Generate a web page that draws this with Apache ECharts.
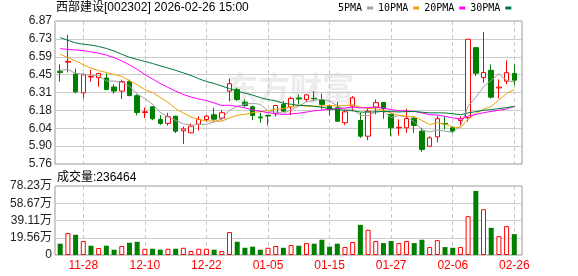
<!DOCTYPE html>
<html><head><meta charset="utf-8">
<script src="https://cdn.jsdelivr.net/npm/echarts@6/dist/echarts.min.js"></script>
<style>html,body{margin:0;padding:0;background:#fff}#c{width:578px;height:276px}</style>
</head><body><div id="c"></div>
<script>
const dates = ['11-25','11-26','11-27','11-28','12-01','12-02','12-03','12-04','12-05','12-08','12-09','12-10','12-11','12-12','12-15','12-16','12-17','12-18','12-19','12-22','12-23','12-24','12-25','12-26','12-29','12-30','12-31','01-05','01-06','01-07','01-08','01-09','01-12','01-13','01-14','01-15','01-16','01-19','01-20','01-21','01-22','01-23','01-26','01-27','01-28','01-29','01-30','02-02','02-03','02-04','02-05','02-06','02-09','02-10','02-11','02-12','02-13','02-24','02-25','02-26'];
const labelDates = ['11-28','12-10','12-22','01-05','01-15','01-27','02-06','02-26'];
const opens  = [6.48,6.55,6.458,6.312,6.435,6.43,6.428,6.358,6.326,6.40,6.29,6.16,6.204,6.106,6.075,6.131,6.018,6.002,6.069,6.106,6.142,6.116,6.326,6.339,6.24,6.204,6.125,6.138,6.15,6.222,6.204,6.272,6.261,6.27,6.256,6.209,6.197,6.08,6.209,6.098,5.976,6.201,6.238,6.145,6.04,6.041,6.116,6.015,5.898,5.971,6.075,6.041,6.098,6.119,6.663,6.43,6.487,6.35,6.403,6.463];
const closes = [6.47,6.557,6.32,6.452,6.44,6.463,6.339,6.326,6.40,6.291,6.16,6.165,6.111,6.075,6.127,6.015,6.033,6.054,6.106,6.131,6.108,6.158,6.383,6.261,6.214,6.137,6.118,6.132,6.214,6.17,6.269,6.265,6.297,6.266,6.222,6.183,6.092,6.165,6.274,5.976,6.17,6.236,6.189,6.041,6.045,6.113,6.059,5.872,5.963,6.111,6.07,6.015,6.111,6.728,6.465,6.47,6.279,6.357,6.469,6.411];
const lows   = [6.40,6.47,6.308,6.27,6.40,6.36,6.333,6.305,6.265,6.285,6.137,6.116,6.10,6.064,6.059,6.0,5.915,6.0,6.02,6.09,6.092,6.098,6.248,6.248,6.204,6.10,6.08,6.059,6.128,6.162,6.139,6.222,6.24,6.248,6.183,6.137,6.09,6.064,6.17,5.963,5.945,6.145,6.111,5.976,5.98,6.002,6.002,5.854,5.898,5.929,6.028,6.0,6.059,6.09,6.442,6.391,6.269,6.269,6.378,6.372];
const highs  = [6.533,6.762,6.50,6.46,6.49,6.466,6.463,6.378,6.415,6.415,6.30,6.197,6.21,6.139,6.158,6.135,6.05,6.075,6.131,6.14,6.197,6.178,6.422,6.352,6.261,6.214,6.158,6.142,6.22,6.248,6.282,6.30,6.298,6.326,6.307,6.222,6.24,6.178,6.287,6.158,6.189,6.261,6.24,6.15,6.106,6.189,6.131,6.041,5.976,6.131,6.131,6.05,6.131,6.728,6.668,6.785,6.533,6.417,6.564,6.533];
const volumes = [128000,248000,229000,158000,105000,79000,105000,60000,102000,139000,150000,71000,71000,60000,71000,71000,82000,45000,71000,71000,60000,45000,260000,150000,82000,94000,60000,82000,102000,82000,113000,105000,135000,128000,173000,94000,128000,90000,147000,342000,286000,158000,135000,158000,135000,158000,135000,173000,90000,169000,90000,82000,90000,440000,726000,519000,308000,214000,327000,236464];
const ma5  = [6.487,6.494,6.463,6.458,6.449,6.447,6.404,6.404,6.394,6.364,6.303,6.268,6.225,6.160,6.127,6.099,6.072,6.061,6.067,6.068,6.086,6.111,6.177,6.208,6.225,6.231,6.223,6.172,6.163,6.154,6.181,6.210,6.243,6.253,6.264,6.247,6.212,6.186,6.187,6.138,6.135,6.164,6.169,6.122,6.136,6.125,6.089,6.026,6.010,6.024,6.015,6.006,6.054,6.207,6.278,6.358,6.411,6.460,6.408,6.397];
const ma10 = [6.612,6.585,6.56,6.53,6.505,6.485,6.47,6.455,6.44,6.406,6.375,6.336,6.315,6.277,6.24,6.19,6.155,6.125,6.105,6.095,6.093,6.092,6.119,6.138,6.146,6.159,6.167,6.175,6.186,6.190,6.206,6.216,6.208,6.208,6.209,6.214,6.211,6.214,6.220,6.201,6.191,6.188,6.177,6.155,6.137,6.130,6.127,6.098,6.066,6.080,6.070,6.048,6.040,6.109,6.151,6.186,6.208,6.257,6.308,6.338];
const ma20 = [6.655,6.65,6.645,6.64,6.63,6.62,6.605,6.585,6.56,6.53,6.495,6.455,6.42,6.385,6.355,6.325,6.30,6.28,6.265,6.252,6.234,6.214,6.217,6.207,6.196,6.180,6.169,6.159,6.150,6.144,6.149,6.154,6.163,6.173,6.178,6.186,6.189,6.195,6.203,6.195,6.198,6.202,6.193,6.182,6.173,6.172,6.169,6.156,6.143,6.140,6.130,6.118,6.109,6.132,6.144,6.158,6.168,6.177,6.187,6.209];
const ma30 = [6.741,6.72,6.70,6.69,6.683,6.672,6.657,6.637,6.612,6.588,6.572,6.556,6.54,6.522,6.505,6.487,6.467,6.447,6.422,6.40,6.385,6.365,6.345,6.325,6.31,6.295,6.275,6.26,6.25,6.231,6.224,6.215,6.214,6.208,6.200,6.191,6.183,6.177,6.173,6.163,6.163,6.165,6.168,6.167,6.164,6.167,6.168,6.162,6.157,6.157,6.156,6.151,6.142,6.157,6.166,6.177,6.182,6.190,6.198,6.206];
const priceTicks = ['5.76','5.90','6.04','6.18','6.31','6.45','6.59','6.73','6.87'];
const volTicks = ['0','19.56万','39.11万','58.67万','78.23万'];
const stockTitle = '西部建设[002302] 2026-02-26 15:00';
const volTitle = '成交量:236464';
const watermark = '东方财富';

const FONT = "'Liberation Sans', 'Noto Sans CJK SC', sans-serif";
const UP = '#ff0000', DOWN = '#008000';
const isLabel = (i) => labelDates.indexOf(dates[i]) >= 0;

const candleData = dates.map((d, i) => [opens[i], closes[i], lows[i], highs[i]]);
const volData = volumes.map((v, i) => {
  const up = i === 0 ? closes[i] >= opens[i] : closes[i] >= closes[i - 1];
  return { value: v, itemStyle: up ? { color: '#ffffff', borderColor: UP, borderWidth: 1 } : { color: DOWN } };
});

const chart = echarts.init(document.getElementById('c'), null, { renderer: 'canvas' });
const catAxis = (gi, showLabel) => ({
  gridIndex: gi, type: 'category', data: dates, boundaryGap: true,
  axisLine: { show: false }, axisTick: { show: false },
  axisLabel: { show: showLabel, interval: (i) => isLabel(i), color: UP, fontSize: 12, fontFamily: FONT, margin: 5 },
  splitLine: { show: true, alignWithLabel: true, interval: (i) => isLabel(i), lineStyle: { color: '#c8c8c8', type: [4, 3], width: 1 } }
});
chart.setOption({
  animation: false,
  backgroundColor: '#ffffff',
  grid: [
    { left: 55, top: 21, width: 467, height: 143, show: true, borderColor: '#999', borderWidth: 1, backgroundColor: 'transparent' },
    { left: 56.35, top: 21, width: 461.8, height: 143 },
    { left: 55, top: 186, width: 467, height: 69, show: true, borderColor: '#999', borderWidth: 1, backgroundColor: 'transparent' },
    { left: 56.35, top: 186, width: 461.8, height: 69 }
  ],
  xAxis: [
    { gridIndex: 0, type: 'value', min: 0, max: 1, show: false },
    catAxis(1, false),
    { gridIndex: 2, type: 'value', min: 0, max: 1, show: false },
    catAxis(3, true)
  ],
  yAxis: [
    { gridIndex: 0, type: 'value', min: 0, max: 8, interval: 1,
      axisLine: { show: false }, axisTick: { show: false },
      axisLabel: { formatter: (v) => priceTicks[Math.round(v)], margin: 3, fontSize: 12, color: '#222', fontFamily: FONT },
      splitLine: { lineStyle: { color: '#cccccc', width: 1 } } },
    { gridIndex: 1, type: 'value', min: 5.76, max: 6.87, show: false, splitLine: { show: false } },
    { gridIndex: 2, type: 'value', min: 0, max: 782300, interval: 195575,
      axisLine: { show: false }, axisTick: { show: false },
      axisLabel: { formatter: (v, i) => volTicks[Math.round(v / 195575)], margin: 3, fontSize: 12, color: '#222', fontFamily: FONT },
      splitLine: { lineStyle: { color: '#cccccc', width: 1 } } },
    { gridIndex: 3, type: 'value', min: 0, max: 782300, show: false, splitLine: { show: false } }
  ],
  legend: {
    data: ['5PMA', '10PMA', '20PMA', '30PMA'], left: 338, top: 3, icon: 'rect', itemWidth: 6, itemHeight: 3,
    align: 'right', itemGap: 5, padding: 0,
    textStyle: { fontSize: 10, color: '#000', fontFamily: "'DejaVu Sans Mono', monospace" }
  },
  graphic: [
    { type: 'text', left: 56, top: 2, style: { text: stockTitle, font: '12px ' + FONT, fill: '#000' } },
    { type: 'text', left: 57, top: 172, style: { text: volTitle, font: '12px ' + FONT, fill: '#000' } },
    { type: 'text', left: 226, top: 72, z: -10, style: { text: watermark, font: 'bold 32px "Noto Sans CJK SC"', fill: '#ececec' } }
  ],
  series: [
    { type: 'candlestick', xAxisIndex: 1, yAxisIndex: 1, data: candleData, barWidth: 5,
      itemStyle: { color: '#ffffff', color0: DOWN, borderColor: UP, borderColor0: DOWN, borderWidth: 1 } },
    { name: '5PMA', type: 'line', xAxisIndex: 1, yAxisIndex: 1, data: ma5, showSymbol: false, color: '#a0a0a0', lineStyle: { width: 1 } },
    { name: '10PMA', type: 'line', xAxisIndex: 1, yAxisIndex: 1, data: ma10, showSymbol: false, color: '#f0a000', lineStyle: { width: 1 } },
    { name: '20PMA', type: 'line', xAxisIndex: 1, yAxisIndex: 1, data: ma20, showSymbol: false, color: '#ff00ff', lineStyle: { width: 1 } },
    { name: '30PMA', type: 'line', xAxisIndex: 1, yAxisIndex: 1, data: ma30, showSymbol: false, color: '#007a3a', lineStyle: { width: 1 } },
    { type: 'bar', xAxisIndex: 3, yAxisIndex: 3, data: volData, barWidth: 5 }
  ]
});
</script></body></html>
